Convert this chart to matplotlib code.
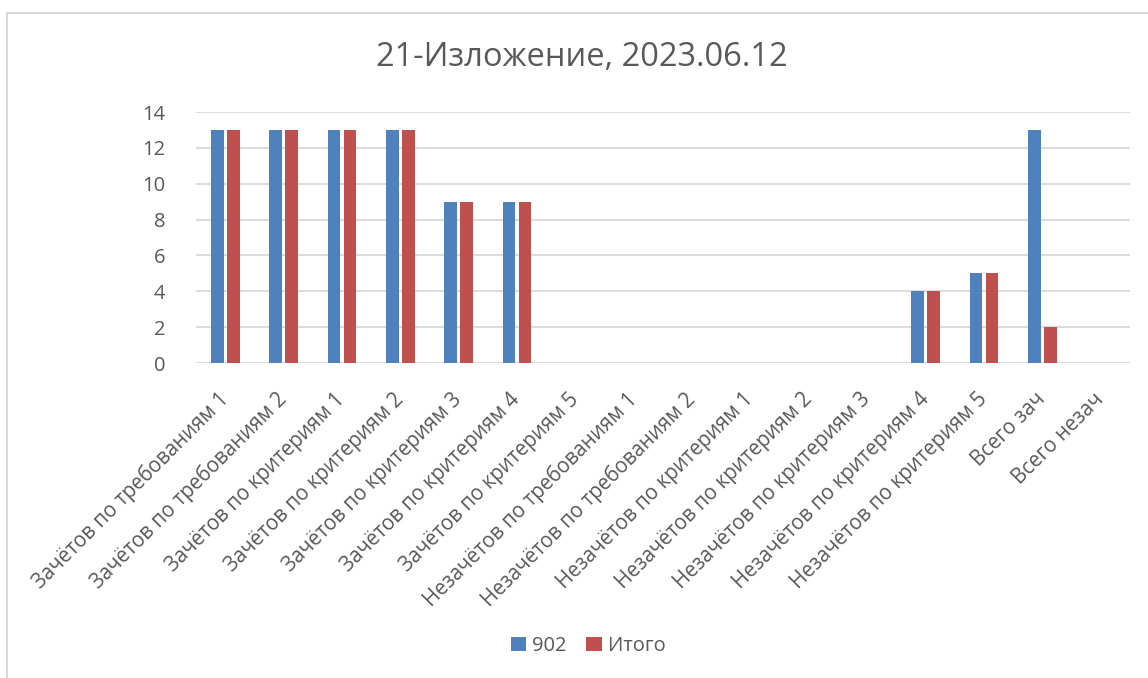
import matplotlib.pyplot as plt
import numpy as np

categories = [
    "Зачётов по требованиям 1", "Зачётов по требованиям 2",
    "Зачётов по критериям 1", "Зачётов по критериям 2",
    "Зачётов по критериям 3", "Зачётов по критериям 4",
    "Зачётов по критериям 5", "Незачётов по требованиям 1",
    "Незачётов по требованиям 2", "Незачётов по критериям 1",
    "Незачётов по критериям 2", "Незачётов по критериям 3",
    "Незачётов по критериям 4", "Незачётов по критериям 5",
    "Всего зач", "Всего незач",
]
s902 = [13, 13, 13, 13, 9, 9, 0, 0, 0, 0, 0, 0, 4, 5, 13, 0]
itogo = [13, 13, 13, 13, 9, 9, 0, 0, 0, 0, 0, 0, 4, 5, 2, 0]
y_ticks = [0, 2, 4, 6, 8, 10, 12, 14]

plt.rcParams['font.family'] = ['Open Sans', 'DejaVu Sans']
txt = '#595959'

fig = plt.figure(figsize=(11.48, 6.78), dpi=100)
# chart border (only left/top visible in the original crop)
fig.add_artist(plt.Line2D([7/1148, 7/1148], [0, 1 - 13/678], transform=fig.transFigure, color='#D9D9D9', lw=1.5))
fig.add_artist(plt.Line2D([7/1148, 1], [1 - 13/678, 1 - 13/678], transform=fig.transFigure, color='#D9D9D9', lw=1.5))

ax = fig.add_axes([196/1148, 1 - 363/678, 934/1148, 251/678])
x = np.arange(len(categories))
w = 0.22
ax.bar(x - 0.137, s902, width=w, color='#4F81BD', label='902', zorder=3)
ax.bar(x + 0.137, itogo, width=w, color='#C0504D', label='Итого', zorder=3)

ax.set_xlim(-0.5, len(categories) - 0.5)
ax.set_ylim(0, 14)
ax.set_yticks(y_ticks)
ax.grid(axis='y', color='#D9D9D9', lw=1.3, zorder=0)
for s in ax.spines.values():
    s.set_visible(False)
ax.tick_params(axis='both', length=0, colors=txt, labelsize=14.5)
ax.tick_params(axis='y', pad=22)
ax.set_xticks(x)
ax.set_xticklabels(categories, rotation=45, ha='right', va='center', rotation_mode='anchor', fontsize=14.8, color=txt)
ax.tick_params(axis='x', pad=24)

fig.text(582/1148, 1 - 57/678, "21-Изложение, 2023.06.12", ha='center', va='center', fontsize=23.5, color=txt)
fig.legend(loc='center', bbox_to_anchor=(588/1148, 1 - 646/678), ncol=2, frameon=False,
           fontsize=14.5, labelcolor=txt, handlelength=0.75, handleheight=0.75, columnspacing=1.0, handletextpad=0.3)

plt.savefig('out.png', dpi=100)
